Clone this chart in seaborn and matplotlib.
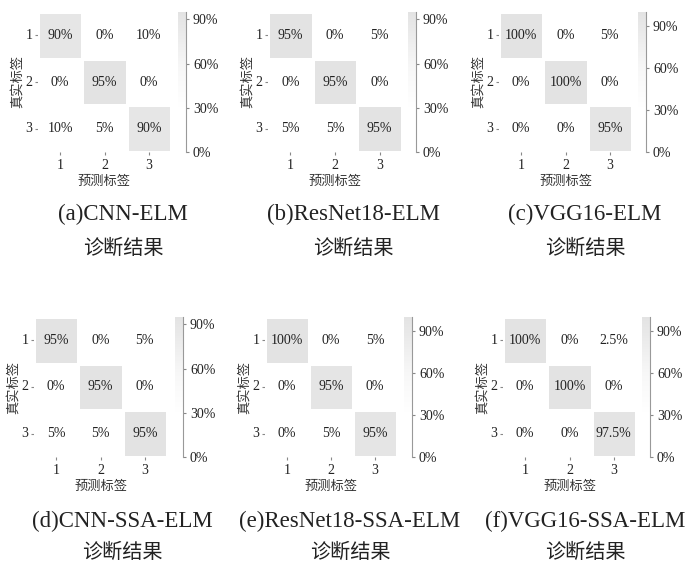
import numpy as np
import pandas as pd
import matplotlib
matplotlib.use("Agg")
import matplotlib.pyplot as plt
from matplotlib.colors import LinearSegmentedColormap
import seaborn as sns

sns.set_theme(style="white")
plt.rcParams['font.family'] = ['Liberation Serif', 'Noto Sans CJK SC', 'DejaVu Sans']

class_labels = ["1", "2", "3"]
x_label = "预测标签"
y_label = "真实标签"
cbar_ticks = [0, 30, 60, 90]

titles = ["(a)CNN-ELM", "(b)ResNet18-ELM", "(c)VGG16-ELM",
          "(d)CNN-SSA-ELM", "(e)ResNet18-SSA-ELM", "(f)VGG16-SSA-ELM"]
subtitle = "诊断结果"

cm_a = [[90, 0, 10], [0, 95, 0], [10, 5, 90]]
cm_b = [[95, 0, 5], [0, 95, 0], [5, 5, 95]]
cm_c = [[100, 0, 5], [0, 100, 0], [0, 0, 95]]
cm_d = [[95, 0, 5], [0, 95, 0], [5, 5, 95]]
cm_e = [[100, 0, 5], [0, 95, 0], [0, 5, 95]]
cm_f = [[100, 0, 2.5], [0, 100, 0], [0, 0, 97.5]]
matrices = [cm_a, cm_b, cm_c, cm_d, cm_e, cm_f]

W, H = 698, 565
fig = plt.figure(figsize=(W / 100, H / 100), dpi=100)

# pixel boxes: (heatmap left, right, top, bottom, cbar left)
boxes = [
    (38, 171, 12, 152, 178),
    (268, 402, 12, 152, 408),
    (499, 632, 12, 152, 638),
    (34, 167, 317, 457, 175),
    (265, 397, 317, 457, 404),
    (503, 636, 317, 457, 642),
]
title_y = [214, 214, 214, 521, 521, 521]
sub_y = [249, 249, 249, 553, 553, 553]
title_x = [123, 353, 585, 122, 350, 585]

cmap = LinearSegmentedColormap.from_list(
    "lg", [(0.0, "#ffffff"), (0.3, "#ffffff"), (0.6, "#f7f7f7"), (1.0, "#e3e3e3")])

def px_axes(l, r, t, b):
    return fig.add_axes([l / W, 1 - b / H, (r - l) / W, (b - t) / H])

for i, (cm, box) in enumerate(zip(matrices, boxes)):
    l, r, t, b, cl = box
    ax = px_axes(l, r, t, b)
    cax = px_axes(cl, cl + 8, t, b)
    arr = np.array(cm, dtype=float)
    df = pd.DataFrame(arr, index=class_labels, columns=class_labels)
    annot = np.array([[f"{v:g}%" for v in row] for row in arr])
    sns.heatmap(df, ax=ax, cbar_ax=cax, cmap=cmap, vmin=0, vmax=arr.max(),
                annot=annot, fmt="", linewidths=1, linecolor="white",
                annot_kws={"fontsize": 10, "color": "#222222"},
                cbar_kws={"ticks": cbar_ticks})
    ax.set_xlabel(x_label, fontsize=9.5, color="#333333", labelpad=3)
    ax.set_ylabel(y_label, fontsize=9.5, color="#333333")
    ax.yaxis.set_label_coords(-14 / (r - l), 0.5)
    ax.tick_params(axis="both", which="both", length=2, width=0.8, color="#888888",
                   labelsize=10, labelcolor="#222222", pad=2, bottom=True, left=True)
    ax.tick_params(axis="x", pad=3)
    ax.set_yticklabels(class_labels, rotation=0)
    ax.set_xticklabels(class_labels, rotation=0)
    cax.set_yticklabels([f"{v}%" for v in cbar_ticks])
    cax.tick_params(axis="y", length=2, width=0.8, color="#888888", labelsize=10,
                    labelcolor="#222222", pad=3, right=True)
    for s in cax.spines.values():
        s.set_visible(False)
    cax.spines["right"].set_visible(True)
    cax.spines["right"].set_color("#999999")
    cax.spines["right"].set_linewidth(0.8)
    cx = title_x[i] / W
    fig.text(cx, 1 - title_y[i] / H, titles[i], ha="center", va="center",
             fontsize=16.5, color="#222222")
    fig.text(cx, 1 - sub_y[i] / H, subtitle, ha="center", va="center",
             fontsize=14.5, color="#222222")

fig.savefig("out.png", dpi=100)
